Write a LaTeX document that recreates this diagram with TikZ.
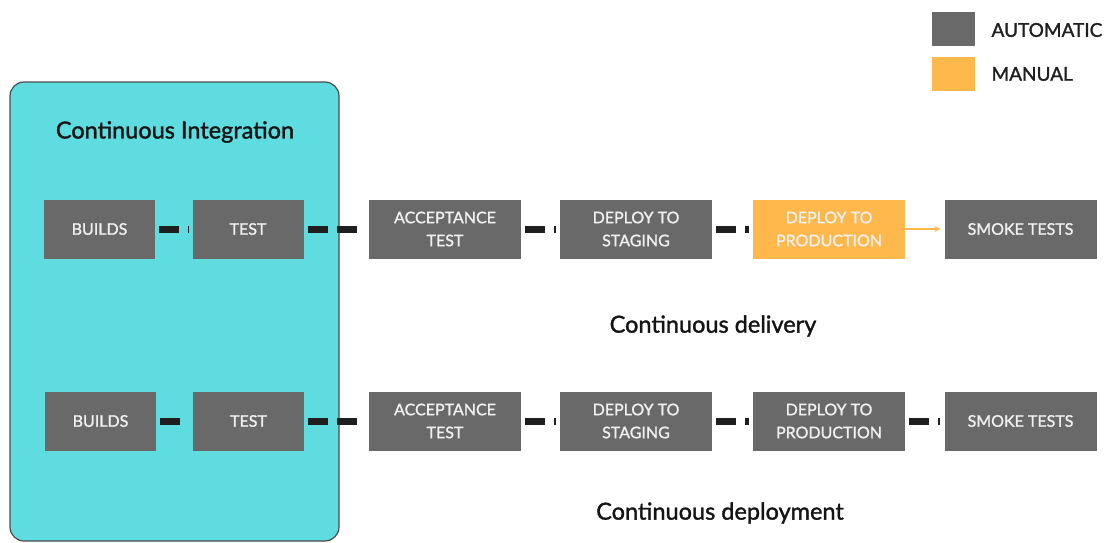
\documentclass[tikz,border=0pt]{standalone}
\usepackage{fontspec}
\setmainfont{Lato}
\newfontfamily\mediumfont[FakeBold=1.4]{Lato}
\usetikzlibrary{arrows.meta}

\definecolor{autogray}{HTML}{696969}
\definecolor{manualorange}{HTML}{FFB84C}
\definecolor{cibg}{HTML}{5FDCE0}
\definecolor{linkblack}{HTML}{1E1E1E}

\tikzset{
	stage/.style={fill=autogray, text=white!94!black, minimum width=152pt, minimum height=59pt,
		inner sep=0pt, align=center, font=\mediumfont\fontsize{16}{23}\selectfont},
	shortstage/.style={stage, minimum width=111pt},
	manualstage/.style={stage, fill=manualorange},
	link/.style={line width=7pt, linkblack, dash pattern=on 20pt off 9pt, shorten <=4pt, shorten >=4pt},
	heading/.style={font=\mediumfont\fontsize{23.5}{28}\selectfont, text=black!92},
	keytext/.style={anchor=west, font=\mediumfont\fontsize{19}{22}\selectfont, text=black!88},
}

\begin{document}
\begin{tikzpicture}[x=1pt, y=-1pt]
			%%%%% START %%%%%
			\useasboundingbox (0, 0) rectangle (1112, 542);
			
			\draw[fill=cibg, draw=black!70, line width=1.2pt, rounded corners=14pt] (10, 82) rectangle (339, 541);
			\node[heading] (cititle) at (175, 132) {Continuous Integration};
			
			% legend
			\node[fill=autogray, minimum width=43pt, minimum height=34pt, inner sep=0pt] (keyauto) at (953.5, 29) {};
			\node[keytext] (keyautotext) at (988, 30) {AUTOMATIC};
			\node[fill=manualorange, minimum width=43pt, minimum height=34pt, inner sep=0pt] (keymanual) at (953.5, 74) {};
			\node[keytext] (keymanualtext) at (988, 74) {MANUAL};
			
			% continuous delivery
			\node[shortstage] (builds1) at (99.5, 229) {BUILDS};
			\node[shortstage] (test1) at (248, 229) {TEST};
			\node[stage] (accept1) at (445, 229) {ACCEPTANCE\\TEST};
			\node[stage] (staging1) at (636, 229) {DEPLOY TO\\STAGING};
			\node[manualstage] (prod1) at (829, 229) {DEPLOY TO\\PRODUCTION};
			\node[stage] (smoke1) at (1020.5, 229) {SMOKE TESTS};
			
			\draw[link] (builds1) -- (test1);
			\draw[link] (test1) -- (accept1);
			\draw[link] (accept1) -- (staging1);
			\draw[link] (staging1) -- (prod1);
			\draw[manualorange, line width=2pt, -{Stealth[length=6pt, width=6pt]}, shorten >=4pt] (prod1) -- (smoke1);
			
			\node[heading] (deliverytitle) at (713, 326) {Continuous delivery};
			
			% continuous deployment
			\node[shortstage] (builds2) at (100.5, 421) {BUILDS};
			\node[shortstage] (test2) at (248.5, 421) {TEST};
			\node[stage] (accept2) at (445, 421) {ACCEPTANCE\\TEST};
			\node[stage] (staging2) at (636, 421) {DEPLOY TO\\STAGING};
			\node[stage] (prod2) at (829, 421) {DEPLOY TO\\PRODUCTION};
			\node[stage] (smoke2) at (1020.5, 421) {SMOKE TESTS};
			
			\draw[link] (builds2) -- (test2);
			\draw[link] (test2) -- (accept2);
			\draw[link] (accept2) -- (staging2);
			\draw[link] (staging2) -- (prod2);
			\draw[link] (prod2) -- (smoke2);
			
			\node[heading] (deploymenttitle) at (720, 513) {Continuous deployment};
			%%%%% END %%%%%
\end{tikzpicture}
\end{document}
